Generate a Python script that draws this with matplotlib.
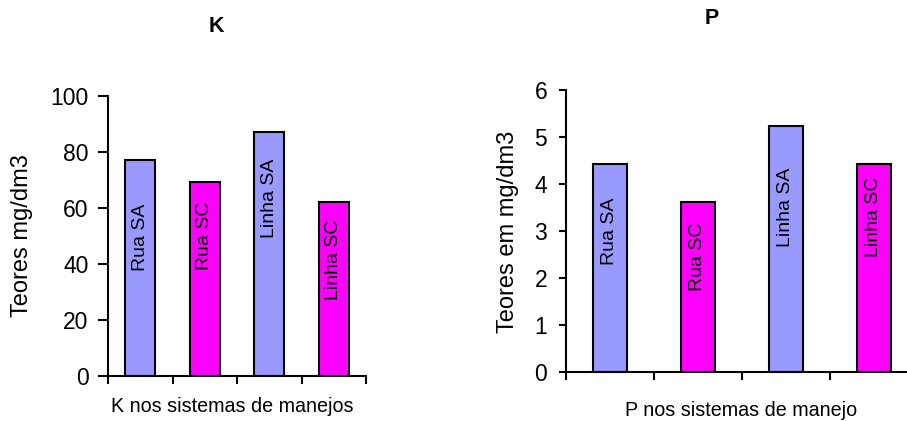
import matplotlib
matplotlib.use("Agg")
from matplotlib import pyplot as plt

plt.rcParams['font.family'] = ['Liberation Sans', 'DejaVu Sans']

categories = ["Rua SA", "Rua SC", "Linha SA", "Linha SC"]
k_values = [77.1, 69.4, 87.1, 62.1]
p_values = [4.43, 3.62, 5.24, 4.43]
colors = ["#9999FF", "#FF00FF", "#9999FF", "#FF00FF"]

# where the category names sit inside the bars (data units)
k_label_y = [49.6, 50.0, 63.6, 41.4]
p_label_y = [2.98, 2.44, 3.51, 3.30]

W, H = 907, 421


def bar_panel(fig, rect, values, label_y, ymax, yticks, bar_width,
              tick_len, tick_pad):
    ax = fig.add_axes(rect)
    x = [i + 0.5 for i in range(len(values))]
    ax.bar(x, values, width=bar_width, color=colors, edgecolor="black",
           linewidth=1.5, zorder=2)
    for xi, yi, name in zip(x, label_y, categories):
        ax.text(xi, yi, name, rotation=90, ha="center", va="center",
                fontsize=14, color="black", zorder=3)
    ax.set_xlim(0, len(values))
    ax.set_ylim(0, ymax)
    ax.set_yticks(yticks)
    ax.set_xticks(range(len(values) + 1))
    ax.set_xticklabels([])
    for side in ["top", "right"]:
        ax.spines[side].set_visible(False)
    for side in ["left", "bottom"]:
        ax.spines[side].set_linewidth(1.5)
    ax.tick_params(axis="y", labelsize=16.5, length=tick_len, width=1.5,
                   pad=tick_pad)
    ax.tick_params(axis="x", length=6, width=1.5)
    return ax


def main():
    fig = plt.figure(figsize=(W / 100, H / 100), dpi=100)

    bar_panel(fig, [108 / W, 1 - 376 / H, 258 / W, 280 / H],
              k_values, k_label_y, 100, [0, 20, 40, 60, 80, 100],
              0.47, 7, 7)
    bar_panel(fig, [566 / W, 1 - 371.7 / H, 352 / W, 281.7 / H],
              p_values, p_label_y, 6, [0, 1, 2, 3, 4, 5, 6],
              0.39, 5, 8.5)

    fig.text(216 / W, 1 - 26 / H, "K", ha="center", va="center",
             fontsize=15.5, fontweight="bold")
    fig.text(712 / W, 1 - 19 / H, "P", ha="center", va="center",
             fontsize=15.5, fontweight="bold")

    fig.text(22 / W, 1 - 236 / H, "Teores mg/dm3", rotation=90,
             ha="center", va="center", fontsize=17)
    fig.text(508 / W, 1 - 231.7 / H, "Teores em mg/dm3", rotation=90,
             ha="center", va="center", fontsize=17)

    fig.text(232 / W, 1 - 406 / H, "K nos sistemas de manejos",
             ha="center", va="center", fontsize=14.2)
    fig.text(741 / W, 1 - 410 / H, "P nos sistemas de manejo",
             ha="center", va="center", fontsize=14.2)

    fig.savefig("out.png", dpi=100)


if __name__ == "__main__":
    main()
